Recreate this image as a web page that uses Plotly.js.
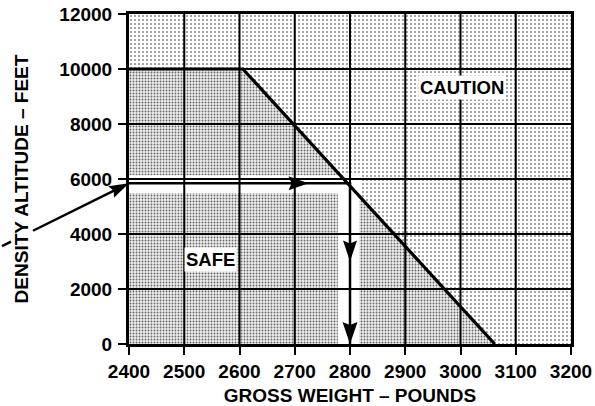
<!DOCTYPE html>
<html><head><meta charset="utf-8">
<script src="https://cdn.plot.ly/plotly-3.0.1.min.js"></script>
<style>html,body{margin:0;padding:0;background:#fff}#chart{width:595px;height:406px}</style>
</head><body><div id="chart"></div>
<script>
// ---- data ----
const weightTicks = [2400, 2500, 2600, 2700, 2800, 2900, 3000, 3100, 3200];
const altitudeTicks = [0, 2000, 4000, 6000, 8000, 10000, 12000];
const limitWeight = [2400, 2606, 3062];
const limitAltitude = [10000, 10000, 0];
const chartWeight = [2400, 3200];
const chartAltitude = [0, 12000];
const exampleWeight = 2800;
const exampleAltitude = 5850;
const bandHWeight = [2400, 2820];
const bandHAltitude = [5490, 6140];
const bandVWeight = [2778, 2817];
const bandVAltitude = [0, 5850];
const safeLabel = {text: 'SAFE', x: 2547, y: 3090};
const cautionLabel = {text: 'CAUTION', x: 3003, y: 9310};

const FONT = 'Liberation Sans, Arial, Helvetica, sans-serif';

function rect(xs, ys) {
  return {x: [xs[0], xs[1], xs[1], xs[0], xs[0]], y: [ys[0], ys[0], ys[1], ys[1], ys[0]]};
}
const caution = rect(chartWeight, chartAltitude);
const bandH = rect(bandHWeight, bandHAltitude);
const bandV = rect(bandVWeight, bandVAltitude);

const traces = [
  {x: caution.x, y: caution.y, type: 'scatter', mode: 'none', fill: 'toself',
   fillcolor: '#ffffff',
   fillpattern: {shape: '.', size: 4, solidity: 0.12, fgcolor: '#222', bgcolor: '#ffffff'},
   hoverinfo: 'skip', showlegend: false},
  {x: [limitWeight[0]].concat(limitWeight), y: [0].concat(limitAltitude), type: 'scatter', mode: 'none', fill: 'toself',
   fillcolor: '#c8c8c8',
   fillpattern: {shape: '.', size: 3, solidity: 0.3, fgcolor: '#666', bgcolor: '#eeeeee'},
   hoverinfo: 'skip', showlegend: false},
  {x: bandH.x, y: bandH.y, type: 'scatter', mode: 'none', fill: 'toself', fillcolor: '#ffffff', hoverinfo: 'skip', showlegend: false},
  {x: bandV.x, y: bandV.y, type: 'scatter', mode: 'none', fill: 'toself', fillcolor: '#ffffff', hoverinfo: 'skip', showlegend: false},
  {x: limitWeight, y: limitAltitude, type: 'scatter', mode: 'lines', line: {color: '#000', width: 3.2}, hoverinfo: 'skip', showlegend: false},
  {x: [chartWeight[0], exampleWeight, exampleWeight], y: [exampleAltitude, exampleAltitude, 0], type: 'scatter', mode: 'lines',
   line: {color: '#000', width: 2.5}, hoverinfo: 'skip', showlegend: false}
];

const shapes = [];
weightTicks.slice(1, -1).forEach(w => shapes.push({type: 'line', xref: 'x', yref: 'paper', x0: w, x1: w, y0: 0, y1: 1, layer: 'above', line: {color: '#000', width: 2}}));
altitudeTicks.slice(1, -1).forEach(a => shapes.push({type: 'line', xref: 'paper', yref: 'y', x0: 0, x1: 1, y0: a, y1: a, layer: 'above', line: {color: '#000', width: 2}}));

// arrowhead path in pixel offsets (y up), tip at anchor, pointing along angle (deg, 0 = right, -90 = down)
function headPath(angleDeg, len, wid) {
  const a = angleDeg * Math.PI / 180;
  const dx = Math.cos(a), dy = Math.sin(a);
  const nx = -dy, ny = dx;
  const bx = -len * dx, by = -len * dy;
  const c1 = [bx + nx * wid / 2, by + ny * wid / 2];
  const c2 = [bx - nx * wid / 2, by - ny * wid / 2];
  const notch = [bx + dx * 3, by + dy * 3];
  const f = v => v.toFixed(2);
  return `M0,0 L${f(c1[0])},${f(c1[1])} L${f(notch[0])},${f(notch[1])} L${f(c2[0])},${f(c2[1])} Z`;
}
function head(xa, ya, ang, len, wid, xref, yref) {
  shapes.push({type: 'path', xref: xref || 'x', yref: yref || 'y', xsizemode: 'pixel', ysizemode: 'pixel', xanchor: xa, yanchor: ya,
    path: headPath(ang, len, wid), fillcolor: '#000', line: {width: 0}, layer: 'above'});
}
head(2725, exampleAltitude, 0, 20, 14);
head(exampleWeight, 3000, -90, 21, 14);
head(exampleWeight, 0, -90, 22, 15);

// incoming arrow from outside the chart (paper-anchored so it is not clipped)
const entryY = (exampleAltitude - chartAltitude[0]) / (chartAltitude[1] - chartAltitude[0]);
const tail = [-127, -63];
const ang = Math.atan2(-tail[1], -tail[0]) * 180 / Math.PI;
head(0, entryY, ang, 20, 13, 'paper', 'paper');
function ptAt(xoff) { return [xoff, tail[1] * xoff / tail[0]]; }
[[-127, -118], [-96, -12]].forEach(seg => {
  const p0 = ptAt(seg[0]), p1 = ptAt(seg[1]);
  shapes.push({type: 'line', xref: 'paper', yref: 'paper', xsizemode: 'pixel', ysizemode: 'pixel',
    xanchor: 0, yanchor: entryY, x0: p0[0], y0: p0[1], x1: p1[0], y1: p1[1],
    line: {color: '#000', width: 2.5}, layer: 'above'});
});

const annFont = {family: FONT, size: 18.5, color: '#000', weight: 'bold'};
const annotations = [safeLabel, cautionLabel].map(l => ({
  x: l.x, y: l.y, xref: 'x', yref: 'y', text: l.text, showarrow: false,
  font: annFont, bgcolor: '#ffffff', borderpad: 1
}));

const tickFont = {family: FONT, size: 19, color: '#000', weight: 'bold'};
const titleFont = {family: FONT, size: 19, color: '#000', weight: 'bold'};
const axisCommon = {
  showgrid: false, zeroline: false, showline: true, mirror: true, linecolor: '#000', linewidth: 3,
  ticks: 'outside', ticklen: 8, tickwidth: 2, tickcolor: '#000', tickfont: tickFont, layer: 'above traces',
  fixedrange: true
};

const layout = {
  width: 595, height: 406,
  margin: {l: 129, r: 24, t: 14, b: 62},
  paper_bgcolor: '#fff', plot_bgcolor: '#fff',
  showlegend: false,
  xaxis: Object.assign({}, axisCommon, {
    range: chartWeight, tickmode: 'array', tickvals: weightTicks, ticktext: weightTicks.map(String),
    title: {text: 'GROSS WEIGHT – POUNDS', font: titleFont, standoff: 8}
  }),
  yaxis: Object.assign({}, axisCommon, {
    range: chartAltitude, tickmode: 'array', tickvals: altitudeTicks, ticktext: altitudeTicks.map(String),
    ticklabelstandoff: 2,
    title: {text: 'DENSITY ALTITUDE – FEET', font: titleFont, standoff: 26}
  }),
  shapes: shapes,
  annotations: annotations
};

Plotly.newPlot('chart', traces, layout, {displayModeBar: false, staticPlot: true});
</script></body></html>
